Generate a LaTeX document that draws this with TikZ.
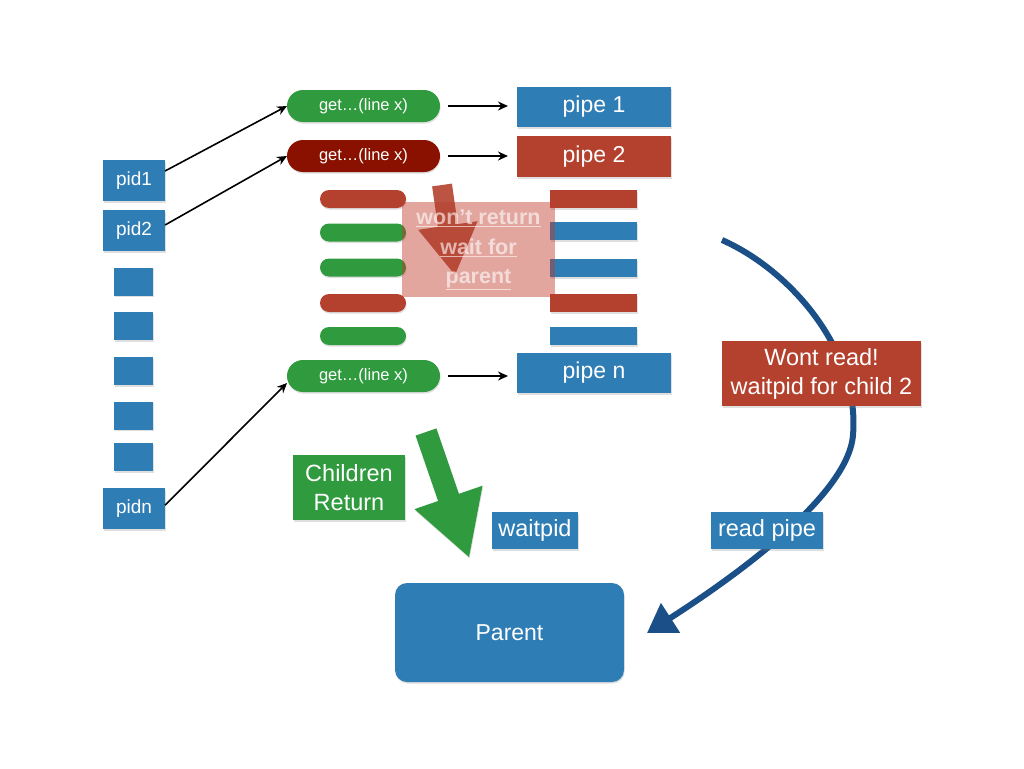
\documentclass[tikz,border=0pt]{standalone}
\usepackage{fontspec}
\setmainfont{Liberation Sans}
\usetikzlibrary{arrows.meta,shadows}
\definecolor{kblue}{HTML}{2F7DB5}
\definecolor{kdblue}{HTML}{1A4F87}
\definecolor{kgreen}{HTML}{2F9A3E}
\definecolor{kred}{HTML}{B4412E}
\definecolor{kdred}{HTML}{8A1100}
\definecolor{kpink}{HTML}{C0392B}
\tikzset{
  shad/.style={drop shadow={opacity=0.25,shadow xshift=0.6pt,shadow yshift=-1.6pt}},
  box/.style={rectangle,inner sep=0pt,outer sep=0pt,text=white,shad,align=center},
  bluebox/.style={box,fill=kblue},
  greenbox/.style={box,fill=kgreen},
  redbox/.style={box,fill=kred},
  pill/.style={box,rounded corners=#1},
  bigtxt/.style={font=\fontsize{23.5}{29}\selectfont},
  pidtxt/.style={font=\fontsize{19}{22}\selectfont},
  gettxt/.style={font=\fontsize{16.5}{19}\selectfont},
  pipetxt/.style={font=\fontsize{23}{26}\selectfont},
  conn/.style={draw=black,line width=1.6pt,-{Stealth[length=10pt,width=9pt]}},
  bigarrow/.style={line join=miter},
}
\begin{document}
\begin{tikzpicture}[x=1pt,y=-1pt]
\useasboundingbox (0,0) rectangle (1024,768);
% pid column
\node[bluebox,pidtxt,minimum width=62pt,minimum height=41pt] (pid1) at (134,180.5) {pid1};
\node[bluebox,pidtxt,minimum width=62pt,minimum height=41pt] (pid2) at (134,230.5) {pid2};
\node[bluebox,minimum width=39pt,minimum height=28pt] (s1) at (133.5,281.5) {};
\node[bluebox,minimum width=39pt,minimum height=28pt] (s2) at (133.5,326) {};
\node[bluebox,minimum width=39pt,minimum height=28pt] (s3) at (133.5,371) {};
\node[bluebox,minimum width=39pt,minimum height=28pt] (s4) at (133.5,415.5) {};
\node[bluebox,minimum width=39pt,minimum height=28pt] (s5) at (133.5,457) {};
\node[bluebox,pidtxt,minimum width=62pt,minimum height=41pt] (pidn) at (134,508.5) {pidn};
% get pills
\node[pill=16pt,fill=kgreen,gettxt,minimum width=153pt,minimum height=32pt] (get1) at (363.5,106) {get\ldots(line x)};
\node[pill=16pt,fill=kdred,gettxt,minimum width=153pt,minimum height=32pt] (get2) at (363.5,156) {get\ldots(line x)};
\node[pill=16pt,fill=kgreen,gettxt,minimum width=153pt,minimum height=32pt] (getn) at (363.5,376) {get\ldots(line x)};
% pipes
\node[bluebox,pipetxt,minimum width=154pt,minimum height=40pt] (pipe1) at (594,107) {pipe 1};
\node[redbox,pipetxt,minimum width=154pt,minimum height=41pt] (pipe2) at (594,156.5) {pipe 2};
\node[bluebox,pipetxt,minimum width=154pt,minimum height=40pt] (pipen) at (594,373) {pipe n};
% small pills and bars
\node[pill=9pt,fill=kred,minimum width=86pt,minimum height=18pt] (p1) at (363,199) {};
\node[pill=9pt,fill=kgreen,minimum width=86pt,minimum height=18pt] (p2) at (363,232.5) {};
\node[pill=9pt,fill=kgreen,minimum width=86pt,minimum height=18pt] (p3) at (363,267.5) {};
\node[pill=9pt,fill=kred,minimum width=86pt,minimum height=18pt] (p4) at (363,303) {};
\node[pill=9pt,fill=kgreen,minimum width=86pt,minimum height=18pt] (p5) at (363,336) {};
\node[redbox,minimum width=87pt,minimum height=18pt] (b1) at (593.5,199) {};
\node[bluebox,minimum width=87pt,minimum height=18pt] (b2) at (593.5,231) {};
\node[bluebox,minimum width=87pt,minimum height=18pt] (b3) at (593.5,268) {};
\node[redbox,minimum width=87pt,minimum height=18pt] (b4) at (593.5,303) {};
\node[bluebox,minimum width=87pt,minimum height=18pt] (b5) at (593.5,336) {};
% overlay
\node[rectangle,inner sep=0pt,fill=kpink,fill opacity=0.45,minimum width=153pt,minimum height=95pt] (ovl) at (478.5,249.5) {};
\fill[kred,opacity=0.9,bigarrow] (432.1,186.4) -- (451.9,183.6) -- (457.75,224.1) -- (477.55,221.2) -- (455,275) -- (418.15,229.8) -- (437.95,226.9) -- cycle;
\node[text=white,text opacity=0.6,font=\bfseries\fontsize{21.5}{29.5}\selectfont,align=center,inner sep=0pt] (ovltxt) at (478.5,250) {\underline{won't return}\\ \underline{wait for}\\ \underline{parent}};
% connectors
\draw[conn] (pid1.17) -- (get1.west);
\draw[conn] (pid2.10) -- (get2.west);
\draw[conn] (pidn.6) -- ([yshift=-7pt]getn.west);
\draw[conn,shorten <=8pt,shorten >=9pt] (get1.east) -- (get1.east -| pipe1.west);
\draw[conn,shorten <=8pt,shorten >=9pt] (get2.east) -- (get2.east -| pipe2.west);
\draw[conn,shorten <=8pt,shorten >=9pt] (getn.east) -- (getn.east -| pipen.west);
% blue curve
\coordinate (cstart) at (722,240);
\coordinate (cend) at (647,633);
\draw[kdblue,line width=6pt,-{Triangle[length=28pt,width=34pt]}] (cstart) .. controls (790,270) and (860,350) .. (853,435) .. controls (848,500) and (717,588) .. (cend);
% green arrow
\fill[kgreen,bigarrow,shad] (415.6,435.6) -- (436.4,428.4) -- (458.9,493.8) -- (482.5,485.7) -- (469,557) -- (414.5,509.1) -- (438.1,501.0) -- cycle;
% labels
\node[greenbox,bigtxt,minimum width=112pt,minimum height=65pt] (chret) at (349,487.5) {Children\\Return};
\node[bluebox,bigtxt,minimum width=86pt,minimum height=37pt] (wpid) at (535,530.5) {waitpid};
\node[bluebox,bigtxt,minimum width=112pt,minimum height=37pt] (rpipe) at (767,530.5) {read pipe};
\node[redbox,bigtxt,minimum width=199pt,minimum height=65pt] (wont) at (821.5,373.5) {Wont read!\\waitpid for child 2};
\node[bluebox,rounded corners=12pt,font=\fontsize{23}{27}\selectfont,minimum width=229pt,minimum height=99pt] (parent) at (509.5,632.5) {Parent};
\end{tikzpicture}
\end{document}
